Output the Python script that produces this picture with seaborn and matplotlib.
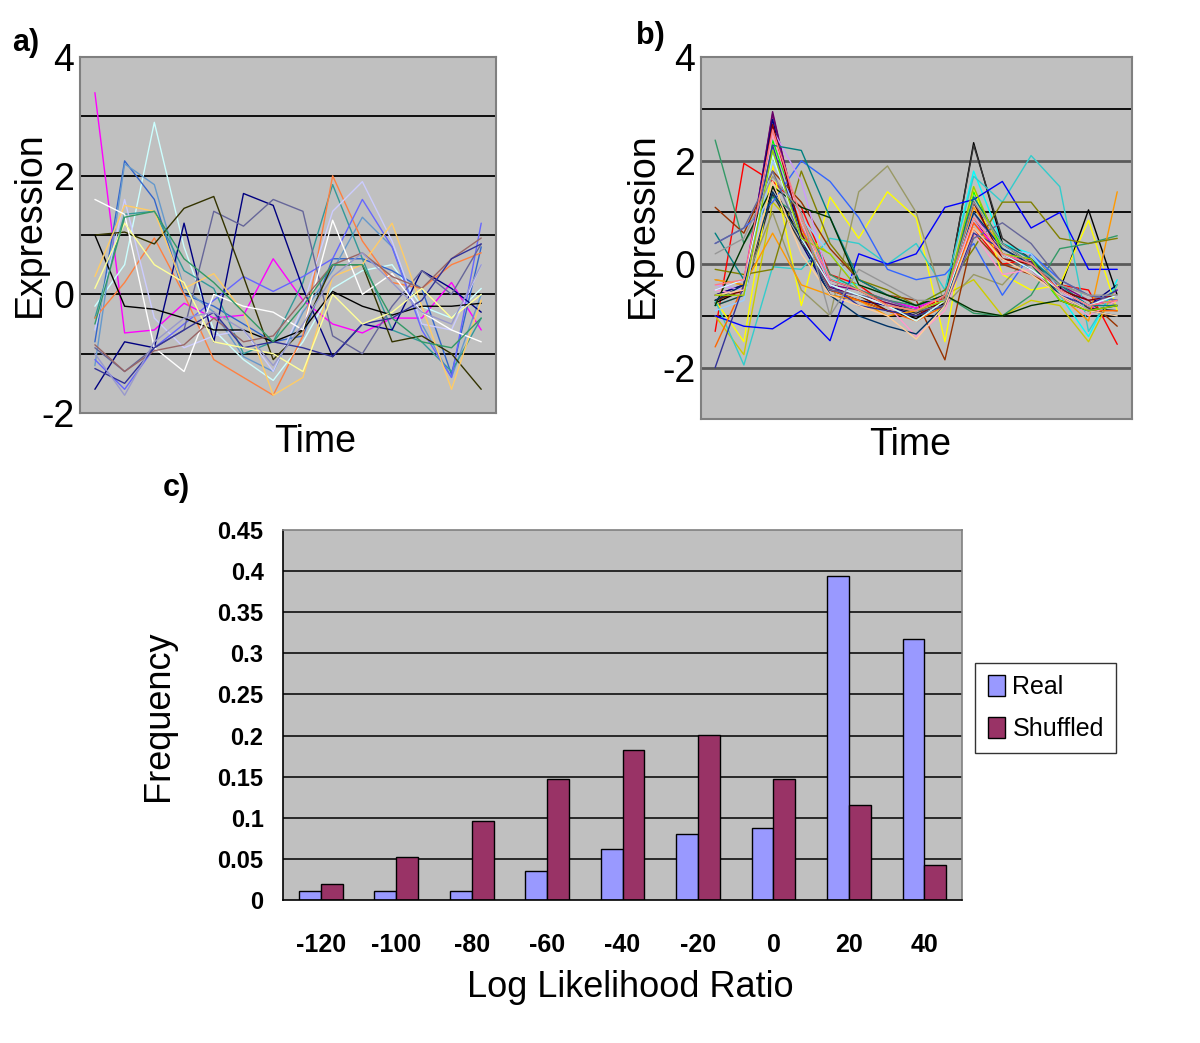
import numpy as np
import pandas as pd
import seaborn as sns
import matplotlib.pyplot as plt

sns.set_style("white")
plt.rcParams['font.family'] = ['Liberation Sans', 'DejaVu Sans']
plt.rcParams['axes.unicode_minus'] = False
plt.rcParams['text.color'] = 'black'
plt.rcParams['axes.labelcolor'] = 'black'
plt.rcParams['xtick.color'] = 'black'
plt.rcParams['ytick.color'] = 'black'

# a) random genes, 14 time points
time_a = list(range(14))
expr_a = [
    [3.4, -0.65, -0.6, -0.15, -0.4, -0.35, 0.6, -0.1, -0.5, -0.65, -0.4, -0.4, 0.2, -0.6],
    [-0.2, 0.5, 2.9, 0.8, -0.6, -1.1, -1.45, -0.8, 0.1, 0.4, 0.5, -0.2, -0.4, 0.1],
    [-0.8, 2.25, 1.6, 0.0, -0.2, -0.5, -0.8, -0.7, 0.6, 0.6, 0.4, 0.1, -1.35, 0.8],
    [-1.2, 2.2, 1.85, 0.1, -0.3, -1.05, -1.3, -0.3, 0.4, 1.3, 0.8, -0.5, -1.4, 0.0],
    [-0.4, 1.35, 1.4, 0.4, 0.1, -1.0, -0.8, 0.2, 1.85, 0.6, -0.6, -0.8, -1.3, -0.4],
    [-0.4, 0.2, 0.95, 0.0, -1.1, -1.4, -1.7, -0.7, 2.0, 0.9, 0.2, 0.1, 0.5, 0.7],
    [-0.6, 1.6, -0.4, -0.9, -0.7, -0.6, -1.3, -0.2, 1.4, 1.9, 0.9, -0.5, -0.6, 0.5],
    [-1.1, -1.6, -0.9, -0.5, -0.1, 0.3, 0.05, 0.3, 0.6, 1.6, 0.8, -0.6, -1.4, 1.2],
    [-1.6, -0.8, -0.9, 1.2, -0.8, 1.7, 1.5, 0.1, -1.05, -0.5, -0.6, 0.4, 0.1, -0.3],
    [-0.9, -1.3, -0.9, -0.6, 1.4, 1.15, 1.6, 1.4, -0.7, -1.0, -0.2, 0.4, 0.0, 0.85],
    [1.0, 1.05, 0.85, 1.45, 1.65, 0.3, -1.1, -0.6, 0.5, 0.5, -0.8, -0.7, -1.0, -1.6],
    [1.0, -0.2, -0.25, -0.4, -0.6, -0.6, -0.8, -0.6, 0.05, -0.2, -0.35, -0.2, -0.2, -0.15],
    [0.3, 1.5, 1.4, 0.1, 0.35, -0.3, -1.7, -1.4, 0.3, 0.5, 1.2, -0.2, -1.6, -0.1],
    [1.6, 1.35, -0.9, -1.3, 0.0, -0.2, -0.3, -0.6, 1.25, 0.0, 0.35, -0.3, -0.6, -0.8],
    [-0.85, -1.3, -0.95, -0.85, -0.4, -0.8, -0.7, -0.1, 0.5, 0.7, 0.3, 0.1, 0.6, 0.95],
    [-1.25, -1.5, -0.9, -0.6, -0.3, -0.9, -0.8, -0.9, -1.05, -0.5, -0.4, -0.1, 0.6, 0.85],
    [0.1, 1.2, 0.5, 0.2, -0.8, -0.9, -1.0, -1.3, 0.0, -0.5, -0.3, 0.1, -0.4, 0.0],
    [-0.5, 1.3, 1.4, 0.6, 0.2, -0.3, -0.8, -0.2, 0.5, 0.5, -0.4, -0.8, -0.9, -0.4],
    [-1.0, -1.7, -0.8, -0.4, -0.3, -0.6, -1.2, -0.5, 0.3, 0.7, 0.2, -0.3, -0.5, 0.5],
]
colors_a = ['#FF00FF', '#CCFFFF', '#3366CC', '#6699CC', '#339999', '#FF8040',
            '#CCCCFF', '#6666FF', '#000080', '#666699', '#333300', '#000000',
            '#FFCC66', '#FFFFFF', '#996666', '#333399', '#FFFF99', '#339966',
            '#9999CC']

# b) one cluster, 15 time points
time_b = list(range(15))
expr_b = [
    [-0.6, -0.4, 2.9, 0.6, -0.4, -0.5, -0.7, -0.85, -0.6, 1.0, 0.2, 0.0, -0.4, -0.7, -0.6],
    [-0.7, -0.5, 2.95, 0.5, -0.45, -0.6, -0.75, -0.9, -0.65, 0.9, 0.1, 0.05, -0.45, -0.8, -0.7],
    [-0.5, -0.3, 2.7, 0.7, -0.3, -0.5, -0.7, -0.85, -0.6, 0.8, 0.2, 0.0, -0.5, -0.9, -0.5],
    [-1.3, 1.95, 1.6, 1.1, -0.2, -0.4, -0.8, -0.9, -0.65, 0.7, 0.0, 0.1, -0.4, -0.5, -1.55],
    [-0.7, -0.5, 2.4, 0.8, -0.4, -0.6, -0.9, -1.0, -0.8, 1.4, 0.3, 0.0, -0.7, -0.9, -0.8],
    [-0.8, -0.6, 2.2, 0.6, -0.3, -0.4, -0.6, -0.8, -0.5, 1.8, 0.4, 0.2, -0.6, -1.4, -0.3],
    [-0.6, -0.4, 2.8, 0.4, -0.6, -0.7, -0.8, -1.0, -0.7, 1.2, 0.2, -0.1, -0.6, -0.8, -0.4],
    [-0.75, -0.5, 1.5, 0.5, -0.5, -0.7, -0.9, -1.05, -0.75, 2.35, 0.4, 0.0, -0.5, 1.05, -0.6],
    [-0.8, -0.6, 1.35, 0.4, -0.3, -0.5, -0.8, -0.95, -0.7, 2.3, 0.5, 0.1, -0.5, -0.85, -0.9],
    [-0.7, -1.5, 1.9, -0.8, 1.3, 0.5, 1.4, 0.9, -1.5, 1.5, -0.2, -0.5, -0.4, 0.85, -0.9],
    [-1.0, -1.75, 1.2, 0.6, 0.2, -0.4, -0.6, -0.8, -0.6, -0.3, -1.0, -0.7, -0.8, -1.5, -0.4],
    [-0.7, -1.95, -0.05, -0.1, 0.5, 0.4, 0.0, 0.4, -0.5, 1.7, 1.2, 2.1, 1.5, -1.3, -0.4],
    [-1.0, -1.2, -1.25, -0.9, -1.48, 0.2, 0.0, 0.2, 1.1, 1.25, 1.6, 0.7, 1.0, -0.1, -0.1],
    [2.4, 0.4, 1.3, 0.9, -0.2, -0.5, -0.7, -0.8, -0.6, -0.95, -1.0, -0.6, 0.3, 0.4, 0.55],
    [-0.3, -0.4, 1.0, -0.5, -1.0, 1.4, 1.9, 1.0, -0.8, -0.2, -0.4, 0.2, -0.4, -0.6, -0.8],
    [1.1, 0.6, 1.8, 1.2, 0.3, -0.3, -0.6, -0.7, -1.85, 0.6, 0.0, -0.2, -0.5, -0.7, -1.2],
    [-0.3, -0.4, 0.6, -0.4, -0.6, -0.7, -1.0, -0.9, -0.7, 1.1, 0.3, 0.0, -0.6, -1.1, 1.4],
    [0.4, 0.7, 1.2, 2.0, 1.6, 0.9, -0.1, -0.3, -0.2, 0.4, -0.6, 0.2, -0.3, -0.6, -0.7],
    [-1.6, -0.4, 2.6, 0.7, -0.5, -0.7, -0.9, -1.1, -0.8, 0.8, 0.1, 0.0, -0.5, -0.9, -0.9],
    [-0.1, -0.2, -0.1, 1.8, 0.4, -0.3, -0.5, -0.8, -0.5, 0.3, 1.2, 1.2, 0.5, 0.4, 0.5],
    [-0.5, -0.6, 2.5, 0.8, -0.4, -0.6, -0.8, -1.4, -0.9, 0.6, -0.2, -0.1, -0.6, -1.0, -0.7],
    [-0.4, -0.5, 2.6, 1.6, -0.4, -0.6, -0.8, -0.9, -0.7, 0.9, 0.3, 0.0, -0.6, -0.7, -0.6],
    [-0.9, -0.7, 2.0, 0.9, 0.2, -0.4, -0.6, -0.8, -0.6, 1.0, 0.3, 0.2, -0.5, -0.9, -0.8],
    [0.6, -0.3, 2.3, 2.2, 0.9, -0.3, -0.6, -0.8, -0.6, 1.3, 0.4, 0.1, -0.4, -0.8, -0.8],
    [-0.7, -0.5, 2.7, 0.6, -0.5, -0.6, -0.9, -1.0, -0.7, 1.2, 0.1, 0.0, -0.5, -0.7, -0.6],
    [-2.0, -0.4, 2.3, 0.5, -0.4, -0.8, -0.9, -1.0, -0.8, 0.6, 0.3, 0.0, -0.6, -0.8, -0.5],
    [-0.8, 0.4, 1.5, 1.1, 0.9, -0.4, -0.6, -0.8, -0.6, -0.9, -1.0, -0.8, -0.7, -0.9, -0.8],
    [0.4, 0.7, 1.8, 0.5, -0.5, -0.6, -0.7, -0.9, -0.8, 0.5, 0.8, 0.4, -0.3, -0.6, -0.7],
    [-0.7, -0.4, 1.4, 0.5, -0.6, -1.0, -1.2, -1.35, -0.8, 1.0, 0.3, 0.0, -0.6, -0.9, -1.0],
    [-0.5, -0.3, 2.1, 0.5, -0.4, -0.6, -0.8, -1.1, -0.7, 0.9, 0.2, -0.1, -0.5, -0.8, -0.6],
    [-0.6, -0.5, 1.6, 0.2, -0.6, -0.8, -1.0, -1.45, -0.8, 0.7, 0.1, -0.2, -0.6, -0.9, -1.0],
    [-0.6, -0.6, 2.2, 0.5, 0.2, -0.5, -0.8, -0.9, -0.7, 1.5, 0.2, 0.1, -0.7, -0.9, -0.8],
    [0.2, 0.5, 1.7, 1.0, -1.0, -0.1, -0.4, -0.7, -0.7, 1.2, 0.4, 0.0, -0.4, -0.6, -0.6],
    [-0.4, -0.3, 2.6, 0.9, -0.3, -0.5, -0.8, -0.9, -0.6, 0.9, 0.2, 0.0, -0.5, -0.8, -0.7],
]
colors_b = ['#800080', '#660066', '#FF00FF', '#FF0000', '#00FF00', '#00FFFF',
            '#000080', '#000000', '#333333', '#FFFF00', '#CCCC00', '#33CCCC',
            '#0000FF', '#339966', '#999966', '#993300', '#FF9900', '#3366FF',
            '#FF6600', '#808000', '#FF99CC', '#CC99FF', '#99CCFF', '#008080',
            '#800000', '#333399', '#003300', '#666699', '#003366', '#CCFFFF',
            '#FFCC99', '#99CC00', '#969696', '#FF8080']

# c) log likelihood ratio histogram
llr_bins = ['-120', '-100', '-80', '-60', '-40', '-20', '0', '20', '40']
freq_real = [0.0105, 0.0105, 0.0105, 0.0356, 0.0616, 0.080, 0.087, 0.394, 0.317]
freq_shuffled = [0.0194, 0.0518, 0.0956, 0.147, 0.182, 0.201, 0.147, 0.116, 0.0425]


def long_frame(rows, times):
    recs = []
    for g, row in enumerate(rows):
        for t, v in zip(times, row):
            recs.append({'gene': g, 'time': t, 'value': v})
    return pd.DataFrame(recs)


def expression_panel(ax, rows, times, colors, ylim, grid_levels, ylab_xy, xlab_xy):
    ax.set_facecolor('#C0C0C0')
    for lv, col, lw in grid_levels:
        ax.axhline(lv, color=col, lw=lw, zorder=1)
    sns.lineplot(data=long_frame(rows, times), x='time', y='value', hue='gene',
                 palette=colors, estimator=None, legend=False, lw=1.0, ax=ax)
    ax.set_xlim(-0.5, len(times) - 0.5)
    ax.set_ylim(*ylim)
    ax.set_xticks([])
    ax.set_yticks([-2, 0, 2, 4])
    ax.tick_params(axis='y', length=0, labelsize=27, pad=4)
    for sp in ax.spines.values():
        sp.set_color('#808080')
        sp.set_linewidth(1.5)
    ax.set_ylabel('Expression', fontsize=27)
    ax.yaxis.set_label_coords(*ylab_xy)
    ax.set_xlabel('Time', fontsize=27)
    ax.xaxis.set_label_coords(*xlab_xy)


fig = plt.figure(figsize=(12, 10.43), dpi=100)

ax_a = fig.add_axes([0.0667, 0.604, 0.3467, 0.3413])
grid_a = [(v, 'black', 1.3) for v in [-1, 0, 1, 2, 3]]
expression_panel(ax_a, expr_a, time_a, colors_a, (-2, 4), grid_a,
                 (-0.077, 0.53), (0.565, -0.03))

ax_b = fig.add_axes([0.584, 0.598, 0.359, 0.347])
grid_b = [(-2, '#5a5a5a', 2.0), (-1, 'black', 1.3), (0, '#5a5a5a', 2.0),
          (1, 'black', 1.3), (2, '#5a5a5a', 2.0), (3, 'black', 1.3)]
expression_panel(ax_b, expr_b, time_b, colors_b, (-3, 4), grid_b,
                 (-0.092, 0.536), (0.485, -0.02))

# histogram panel
ax_c = fig.add_axes([0.2358, 0.1371, 0.566, 0.3547])
ax_c.set_facecolor('#C0C0C0')
for v in np.arange(0.05, 0.41, 0.05):
    ax_c.axhline(v, color='black', lw=1.1, zorder=1)
df_c = pd.DataFrame({
    'llr': llr_bins * 2,
    'freq': freq_real + freq_shuffled,
    'series': ['Real'] * len(llr_bins) + ['Shuffled'] * len(llr_bins),
})
sns.barplot(data=df_c, x='llr', y='freq', hue='series', order=llr_bins,
            palette=['#9999FF', '#993366'], saturation=1, width=0.58,
            edgecolor='black', linewidth=1, ax=ax_c, zorder=2)
ax_c.set_xlim(-0.5, len(llr_bins) - 0.5)
ax_c.set_ylim(0, 0.45)
ax_c.set_yticks(np.arange(0, 0.451, 0.05))
ax_c.set_yticklabels([f'{v:g}' for v in np.arange(0, 0.451, 0.05).round(2)])
ax_c.set_xticks(np.arange(-0.5, len(llr_bins), 1), minor=True)
ax_c.tick_params(axis='x', which='major', length=0, pad=24, labelsize=18)
ax_c.tick_params(axis='x', which='minor', length=12, width=1, direction='out', color='black')
ax_c.tick_params(axis='y', length=6, width=1, direction='out', color='black', labelsize=17, pad=8)
for lab in ax_c.get_xticklabels() + ax_c.get_yticklabels():
    lab.set_fontweight('bold')
ax_c.spines['left'].set_color('black')
ax_c.spines['bottom'].set_color('black')
ax_c.spines['top'].set_color('#808080')
ax_c.spines['right'].set_color('#808080')
for sp in ax_c.spines.values():
    sp.set_linewidth(1.2)
ax_c.set_ylabel('Frequency', fontsize=26)
ax_c.yaxis.set_label_coords(-0.158, 0.497)
ax_c.set_xlabel('Log Likelihood Ratio', fontsize=26)
ax_c.xaxis.set_label_coords(0.511, -0.19)
handles, labels = ax_c.get_legend_handles_labels()
leg = ax_c.legend(handles, labels, title=None, loc='center left',
                  bbox_to_anchor=(975 / 1200, 1 - 708 / 1043), bbox_transform=fig.transFigure,
                  frameon=True, fancybox=False, edgecolor='black', fontsize=18,
                  handlelength=0.7, handleheight=0.9, borderpad=0.5,
                  labelspacing=0.7, handletextpad=0.3, borderaxespad=0)
leg.get_frame().set_linewidth(1.0)

fig.text(12 / 1200, 1 - 43 / 1043, 'a)', fontsize=22, fontweight='bold', va='center')
fig.text(636 / 1200, 1 - 36 / 1043, 'b)', fontsize=22, fontweight='bold', va='center')
fig.text(163 / 1200, 1 - 488 / 1043, 'c)', fontsize=22, fontweight='bold', va='center')

fig.savefig('out.png', dpi=100, facecolor='white')
